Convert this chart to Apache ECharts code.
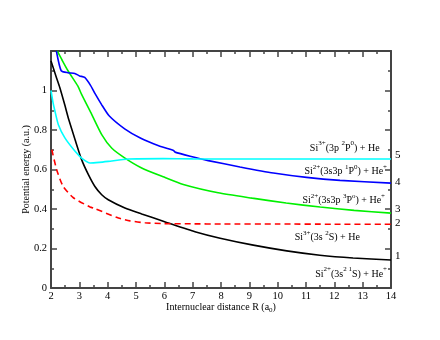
<!DOCTYPE html>
<html>
<head>
<meta charset="utf-8">
<script src="https://cdn.jsdelivr.net/npm/echarts@6/dist/echarts.min.js"></script>
<style>
  html, body { margin: 0; padding: 0; background: #fff; }
  #chart { width: 440px; height: 340px; }
</style>
</head>
<body>
<div id="chart"></div>
<script>
// curves, R in a0, energy in a.u.
const blackX = [2, 2.19, 2.31, 2.48, 2.61, 2.85, 3.08, 3.32, 3.55, 3.79, 4.02, 4.61, 5.2, 5.96, 6.14, 7.08, 7.97, 9.14, 10.32, 11.49, 12.66, 14];
const blackY = [1.15, 1.066, 1.015, 0.93, 0.861, 0.751, 0.65, 0.574, 0.514, 0.472, 0.447, 0.405, 0.375, 0.338, 0.329, 0.285, 0.252, 0.217, 0.188, 0.166, 0.152, 0.142];

const redX = [2.03, 2.2, 2.43, 2.79, 3.38, 3.55, 4.38, 4.79, 5.32, 6, 7, 8, 10, 12, 14];
const redY = [0.70, 0.599, 0.514, 0.457, 0.41, 0.402, 0.354, 0.34, 0.33, 0.326, 0.325, 0.324, 0.324, 0.323, 0.323];

const greenX = [2.22, 2.38, 2.6, 2.95, 3.08, 3.44, 3.79, 4.14, 4.61, 5.2, 5.96, 6.67, 7.9, 9.1, 10.3, 11.5, 12.7, 14];
const greenY = [1.2, 1.157, 1.10, 1.022, 0.98, 0.878, 0.777, 0.709, 0.658, 0.608, 0.563, 0.524, 0.482, 0.455, 0.43, 0.41, 0.393, 0.379];

const blueX = [2.19, 2.36, 2.6, 2.84, 3.01, 3.19, 3.4, 3.55, 3.78, 4.05, 4.6, 5.17, 5.8, 6.26, 6.33, 6.38, 6.91, 7.55, 8.67, 9.85, 11.02, 12.2, 14];
const blueY = [1.2, 1.1, 1.09, 1.086, 1.074, 1.066, 1.025, 0.985, 0.93, 0.872, 0.806, 0.758, 0.72, 0.70, 0.696, 0.688, 0.667, 0.645, 0.613, 0.582, 0.56, 0.545, 0.531];

const cyanX = [2, 2.07, 2.14, 2.26, 2.49, 2.85, 3.08, 3.38, 3.7, 4.02, 4.73, 5.96, 7, 10, 14];
const cyanY = [1.0, 0.94, 0.895, 0.827, 0.76, 0.692, 0.658, 0.633, 0.636, 0.641, 0.653, 0.655, 0.654, 0.653, 0.653];

const channelNames = ['1', '2', '3', '4', '5'];

// channel labels (rich text), anchored by their right edge in data space
const stateLabels = [
  '{n|Si}{s|3+}{n|(3p }{s|2}{n|P}{s|0}{n|) + He}',
  '{n|Si}{s|2+}{n|(3s3p }{s|1}{n|P}{s|0}{n|) + He}{s|+}',
  '{n|Si}{s|2+}{n|(3s3p }{s|3}{n|P}{s|o}{n|) + He}{s|+}',
  '{n|Si}{s|3+}{n|(3s }{s|2}{n|S) + He}',
  '{n|Si}{s|2+}{n|(3s}{s|2 1}{n|S) + He}{s|+}'
];
const stateAnchorX = [13.6, 13.86, 13.79, 12.9, 13.86];
const stateAnchorY = [0.716, 0.599, 0.452, 0.264, 0.078];

const FONT = '"Liberation Serif", "Times New Roman", serif';
const AXIS = '#444';

const pairs = (xs, ys) => xs.map((x, i) => [x, ys[i]]);

const richText = {
  n: { fontSize: 10, fontFamily: FONT, color: '#000', lineHeight: 13, verticalAlign: 'bottom' },
  s: { fontSize: 7, fontFamily: FONT, color: '#000', lineHeight: 13, verticalAlign: 'top' }
};

function line(data, color, label, offset, dashed) {
  return {
    type: 'line',
    data: data,
    showSymbol: false,
    smooth: 0.2,
    clip: true,
    lineStyle: { color: color, width: 1.6, type: dashed ? [6, 4] : 'solid' },
    endLabel: {
      show: true,
      formatter: label,
      distance: 4,
      offset: offset,
      fontFamily: FONT,
      fontSize: 11,
      color: '#000'
    }
  };
}

const xAxisBase = {
  type: 'value', min: 2, max: 14, interval: 1,
  axisLine: { show: true, onZero: false, lineStyle: { color: AXIS, width: 2 } },
  axisTick: { show: true, inside: true, length: 6, lineStyle: { color: AXIS, width: 1.5 } },
  minorTick: { show: true, splitNumber: 2, length: 3, lineStyle: { color: AXIS, width: 1.5 } },
  splitLine: { show: false }
};
const yAxisBase = {
  type: 'value', min: 0, max: 1.2, interval: 0.2,
  axisLine: { show: true, onZero: false, lineStyle: { color: AXIS, width: 2 } },
  axisTick: { show: true, inside: true, length: 6, lineStyle: { color: AXIS, width: 1.5 } },
  minorTick: { show: true, splitNumber: 2, length: 3, lineStyle: { color: AXIS, width: 1.5 } },
  splitLine: { show: false }
};

const chart = echarts.init(document.getElementById('chart'));
chart.setOption({
  animation: false,
  backgroundColor: '#fff',
  grid: { left: 51, right: 49, top: 51, bottom: 52 },
  xAxis: [
    Object.assign({}, xAxisBase, {
      position: 'bottom',
      name: '{n|Internuclear distance R (a}{b|0}{n|)}',
      nameLocation: 'middle',
      nameGap: 13,
      nameMoveOverlap: false,
      nameTextStyle: {
        rich: {
          n: { fontSize: 10, fontFamily: FONT, color: '#000', lineHeight: 13 },
          b: { fontSize: 7, fontFamily: FONT, color: '#000', lineHeight: 13, verticalAlign: 'bottom', padding: [6, 0, 0, 0] }
        }
      },
      axisLabel: { margin: 3, fontFamily: FONT, fontSize: 10.5, color: '#000' }
    }),
    Object.assign({}, xAxisBase, { position: 'top', axisLabel: { show: false } })
  ],
  yAxis: [
    Object.assign({}, yAxisBase, {
      position: 'left',
      name: 'Potential energy (a.u.)',
      nameLocation: 'middle',
      nameGap: 20,
      nameMoveOverlap: false,
      nameTextStyle: { fontFamily: FONT, fontSize: 10, color: '#000' },
      axisLabel: {
        margin: 4, fontFamily: FONT, fontSize: 10.5, color: '#000',
        formatter: v => (v > 1.1 ? '' : String(+v.toFixed(1)))
      }
    }),
    Object.assign({}, yAxisBase, { position: 'right', axisLabel: { show: false } })
  ],
  series: [
    line(pairs(blackX, blackY), '#000000', channelNames[0], [0, -4], false),
    line(pairs(redX, redY), '#ff0000', channelNames[1], [0, -1], true),
    line(pairs(greenX, greenY), '#00f000', channelNames[2], [0, -4], false),
    line(pairs(blueX, blueY), '#0000ff', channelNames[3], [0, -1], false),
    line(pairs(cyanX, cyanY), '#00ffff', channelNames[4], [0, -4], false)
  ]
});

// place state labels via the axes
chart.setOption({
  graphic: stateLabels.map((t, i) => {
    const p = chart.convertToPixel({ xAxisIndex: 0, yAxisIndex: 0 }, [stateAnchorX[i], stateAnchorY[i]]);
    return {
      type: 'text',
      x: p[0], y: p[1],
      style: { text: t, rich: richText, align: 'right', verticalAlign: 'middle' }
    };
  })
});
</script>
</body>
</html>
